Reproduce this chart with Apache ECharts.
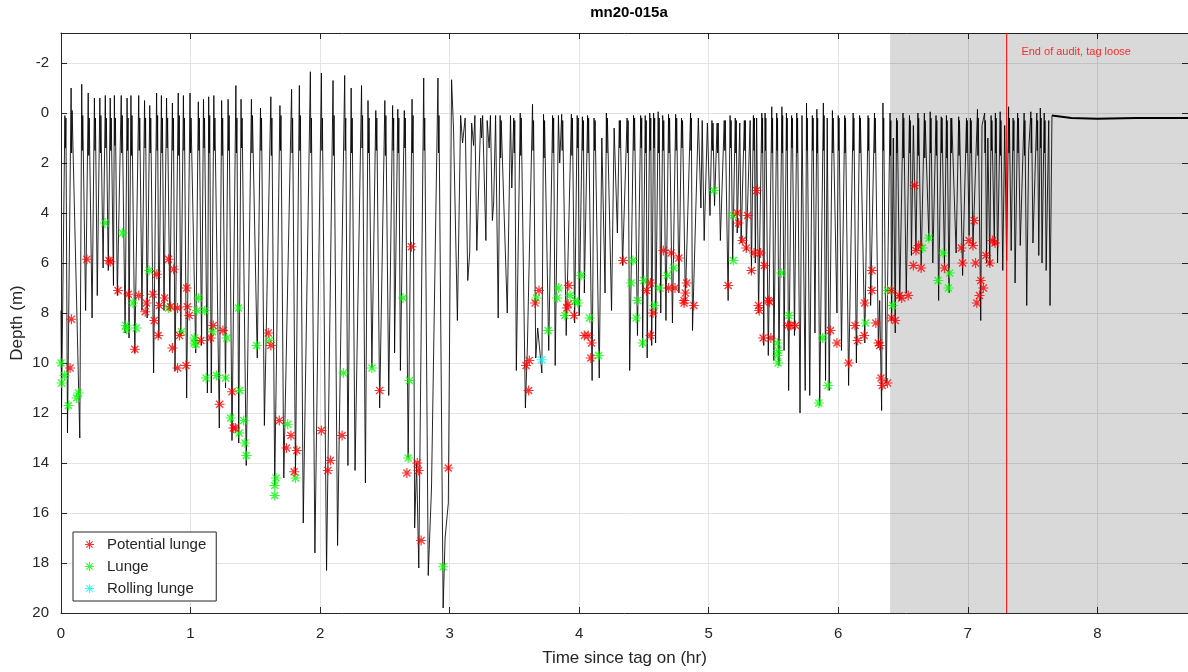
<!DOCTYPE html>
<html>
<head>
<meta charset="utf-8">
<title>mn20-015a</title>
<script src="https://cdn.jsdelivr.net/npm/echarts@6/dist/echarts.min.js"></script>
<style>
html, body { margin: 0; padding: 0; background: #fff; }
#chart { width: 1188px; height: 672px; }
</style>
</head>
<body>
<div id="chart"></div>
<script>
// depth trace [hours since tag on, depth m], read off the plot hour by hour
// (each surfacing: peak, the dense breathing blob, then the next descent)
const depthHr0 = [[0.000,7.9],[0.004,11.8],[0.030,0.1],[0.034,1.4],[0.038,0.2],[0.050,12.8],[0.078,-1.0],[0.082,1.6],[0.086,-0.1],[0.145,13.0],[0.160,-1.15],[0.164,1.5],[0.168,0.1],[0.190,7.9],[0.210,-0.8],[0.214,1.7],[0.218,0.2],[0.240,8.2],[0.258,-0.6],[0.262,1.5],[0.266,0.2],[0.280,7.3],[0.300,-0.6],[0.304,1.6],[0.308,0.1],[0.325,6.2],[0.342,-0.7],[0.346,1.4],[0.350,0.2],[0.365,6.3],[0.380,-0.6],[0.384,1.5],[0.388,0.2],[0.405,6.9],[0.412,-0.7],[0.416,1.3],[0.420,0.2],[0.435,7.3],[0.465,-0.7],[0.469,1.6],[0.473,0.1],[0.495,8.8],[0.510,-0.6],[0.514,1.5],[0.518,0.2],[0.525,9.0],[0.540,-0.7],[0.544,1.7],[0.548,0.1],[0.570,9.6],[0.600,-0.7],[0.604,1.5],[0.608,0.2],[0.625,7.9],[0.645,-0.5],[0.649,1.4],[0.653,0.2],[0.665,8.2],[0.685,-0.3],[0.689,1.6],[0.693,0.2],[0.715,10.4],[0.738,-0.8],[0.742,1.5],[0.746,0.1],[0.755,9.0],[0.775,-0.7],[0.779,1.6],[0.783,0.2],[0.795,7.9],[0.815,-0.6],[0.819,1.4],[0.823,0.2],[0.840,7.9],[0.860,-0.4],[0.864,1.5],[0.868,0.2],[0.880,10.3],[0.905,-0.8],[0.909,1.7],[0.913,0.1],[0.925,8.9],[0.945,-0.7],[0.949,1.5],[0.953,0.2],[0.970,11.4]];
const depthHr1 = [[0.996,-0.8],[1.000,1.6],[1.004,0.2],[1.040,9.6],[1.060,-0.45],[1.064,1.5],[1.068,0.2],[1.085,9.3],[1.100,-0.55],[1.104,1.4],[1.108,0.2],[1.130,11.2],[1.140,-0.65],[1.144,1.6],[1.148,0.1],[1.160,11.2],[1.180,-0.7],[1.184,1.5],[1.188,0.2],[1.222,12.6],[1.240,-0.5],[1.244,1.7],[1.248,0.2],[1.270,11.0],[1.290,-0.55],[1.294,1.5],[1.298,0.1],[1.320,13.1],[1.350,-1.1],[1.354,1.6],[1.358,0.2],[1.372,13.2],[1.390,-0.55],[1.394,1.4],[1.398,0.2],[1.430,14.1],[1.470,-0.55],[1.474,1.6],[1.478,0.1],[1.515,9.8],[1.540,-0.2],[1.544,1.5],[1.548,0.2],[1.570,12.5],[1.620,-0.65],[1.624,1.7],[1.628,0.2],[1.650,14.9],[1.690,-0.3],[1.694,1.5],[1.698,0.1],[1.720,14.6],[1.780,-0.95],[1.784,1.6],[1.788,0.2],[1.810,14.5],[1.840,-1.1],[1.844,1.5],[1.848,0.1],[1.870,16.4],[1.925,-1.65],[1.929,1.6],[1.933,0.2],[1.960,17.6]];
const depthHr2 = [[2.010,-1.6],[2.014,1.5],[2.018,0.2],[2.050,18.3],[2.100,-1.3],[2.104,1.7],[2.108,0.1],[2.135,17.3],[2.190,-1.5],[2.194,1.5],[2.198,0.2],[2.215,14.1],[2.240,-1.0],[2.244,1.6],[2.248,0.2],[2.270,14.3],[2.320,-1.1],[2.324,1.4],[2.328,0.1],[2.350,14.8],[2.370,-0.5],[2.374,1.6],[2.378,0.2],[2.400,10.2],[2.430,-0.1],[2.434,1.5],[2.438,0.2],[2.460,11.8],[2.500,-0.5],[2.504,1.7],[2.508,0.1],[2.530,11.3],[2.560,-0.3],[2.564,1.5],[2.568,0.2],[2.575,9.6],[2.600,-0.15],[2.604,1.6],[2.608,0.2],[2.620,10.3],[2.650,-0.1],[2.654,1.4],[2.658,0.2],[2.680,13.8],[2.710,-0.55],[2.714,1.6],[2.718,0.1],[2.730,16.6],[2.745,14.0],[2.762,18.2],[2.800,-1.4],[2.804,1.5],[2.808,0.2],[2.835,18.5],[2.860,15.0],[2.910,-1.4],[2.914,1.6],[2.918,0.1],[2.950,19.8],[2.965,17.0],[2.990,15.6]];
const depthHr3 = [[3.015,-1.33],[3.030,0.6],[3.060,8.3],[3.085,0.1],[3.100,1.2],[3.120,0.2],[3.140,6.7],[3.155,5.6],[3.170,0.4],[3.185,1.3],[3.195,0.1],[3.210,5.5],[3.240,0.2],[3.247,1.0],[3.255,0.1],[3.280,5.1],[3.290,0.3],[3.305,1.4],[3.315,0.1],[3.330,4.3],[3.340,3.6],[3.355,0.1],[3.375,8.2],[3.390,0.1],[3.394,1.8],[3.398,0.3],[3.445,8.0],[3.470,0.1],[3.480,3.0],[3.495,0.2],[3.499,1.6],[3.503,0.3],[3.515,10.3],[3.545,0.0],[3.549,1.7],[3.553,0.2],[3.585,11.8],[3.600,9.4],[3.640,-0.35],[3.644,1.5],[3.648,0.3],[3.665,9.8],[3.680,8.6],[3.712,10.4],[3.725,0.05],[3.729,1.8],[3.733,0.3],[3.765,9.5],[3.795,0.1],[3.799,1.6],[3.803,0.2],[3.815,10.1],[3.840,0.1],[3.850,2.0],[3.865,0.05],[3.869,1.5],[3.873,0.3],[3.900,8.9],[3.940,0.05],[3.944,1.7],[3.948,0.2],[3.965,8.4],[3.985,0.1],[3.989,1.4],[3.993,0.2]];
const depthHr4 = [[4.000,8.1],[4.025,0.15],[4.029,1.5],[4.033,0.3],[4.040,7.2],[4.065,0.1],[4.069,1.6],[4.073,0.2],[4.100,10.7],[4.115,0.2],[4.119,1.5],[4.123,0.3],[4.155,10.6],[4.175,1.0],[4.200,7.2],[4.210,0.0],[4.214,1.6],[4.218,0.2],[4.250,7.9],[4.270,0.6],[4.295,4.8],[4.310,0.3],[4.314,1.4],[4.318,0.3],[4.335,6.1],[4.370,0.2],[4.374,1.6],[4.378,0.3],[4.390,10.3],[4.420,0.1],[4.424,1.5],[4.428,0.2],[4.450,8.9],[4.475,0.1],[4.479,1.4],[4.483,0.2],[4.490,9.4],[4.510,0.1],[4.514,1.6],[4.518,0.3],[4.525,9.8],[4.545,0.0],[4.549,1.5],[4.553,0.2],[4.560,9.3],[4.575,0.0],[4.579,1.4],[4.583,0.2],[4.590,9.2],[4.610,-0.05],[4.614,1.6],[4.618,0.2],[4.630,8.0],[4.645,0.1],[4.649,1.5],[4.653,0.3],[4.670,8.3],[4.690,0.05],[4.694,1.6],[4.698,0.2],[4.720,8.4],[4.745,0.05],[4.749,1.5],[4.753,0.2],[4.770,7.2],[4.790,0.2],[4.794,1.4],[4.798,0.3],[4.820,7.5],[4.860,0.0],[4.863,1.5],[4.866,0.2],[4.875,8.7],[4.920,0.2],[4.940,3.8],[4.950,0.3],[4.965,5.1],[4.990,0.4]];
const depthHr5 = [[5.010,4.1],[5.025,0.3],[5.029,1.5],[5.033,0.4],[5.045,3.7],[5.065,0.4],[5.069,1.6],[5.073,0.4],[5.090,5.1],[5.120,0.3],[5.124,1.5],[5.128,0.3],[5.150,7.5],[5.165,0.1],[5.169,1.4],[5.173,0.3],[5.185,5.9],[5.205,0.2],[5.209,1.6],[5.213,0.3],[5.220,4.8],[5.240,0.4],[5.250,5.2],[5.275,0.3],[5.279,1.5],[5.283,0.3],[5.290,5.5],[5.320,0.3],[5.330,6.4],[5.345,0.1],[5.349,1.5],[5.353,0.2],[5.360,6.0],[5.370,0.2],[5.385,8.0],[5.410,0.0],[5.413,1.6],[5.416,0.2],[5.425,9.3],[5.435,0.0],[5.438,1.5],[5.441,0.2],[5.460,9.7],[5.487,-0.25],[5.490,1.6],[5.493,0.2],[5.503,9.9],[5.525,0.0],[5.528,1.5],[5.531,0.2],[5.542,10.1],[5.565,-0.25],[5.568,1.6],[5.571,0.1],[5.582,9.5],[5.600,0.0],[5.603,1.5],[5.606,0.2],[5.617,11.1],[5.640,0.1],[5.643,1.4],[5.646,0.2],[5.662,8.9],[5.680,0.0],[5.683,1.6],[5.686,0.2],[5.705,12.0],[5.720,0.1],[5.745,11.1],[5.755,-0.4],[5.758,1.5],[5.761,0.2],[5.780,11.3],[5.800,0.1],[5.803,1.5],[5.806,0.2],[5.820,8.8],[5.835,-0.15],[5.838,1.6],[5.841,0.2],[5.857,11.7],[5.885,-0.4],[5.888,1.5],[5.891,0.1],[5.902,10.7],[5.915,0.2],[5.930,11.1],[5.955,-0.1],[5.958,1.6],[5.961,0.2],[5.990,8.0]];
const depthHr6 = [[6.000,0.1],[6.003,1.5],[6.006,0.2],[6.025,9.5],[6.050,0.1],[6.053,1.6],[6.056,0.2],[6.080,10.9],[6.115,0.0],[6.118,1.5],[6.121,0.2],[6.140,10.0],[6.165,0.1],[6.168,1.6],[6.171,0.2],[6.205,9.2],[6.230,0.1],[6.233,1.5],[6.236,0.2],[6.250,7.7],[6.280,0.0],[6.283,1.6],[6.286,0.2],[6.310,9.4],[6.320,7.5],[6.335,11.9],[6.345,-0.4],[6.348,1.5],[6.351,0.2],[6.370,10.8],[6.400,0.0],[6.403,1.7],[6.406,0.3],[6.412,8.3],[6.425,1.0],[6.440,8.8],[6.450,0.2],[6.453,1.6],[6.456,0.3],[6.475,7.5],[6.500,0.0],[6.503,1.8],[6.506,0.2],[6.525,7.2],[6.550,0.1],[6.553,1.6],[6.556,0.3],[6.565,5.7],[6.580,0.5],[6.600,5.5],[6.615,0.0],[6.618,1.7],[6.621,0.2],[6.640,6.1],[6.665,0.0],[6.668,1.8],[6.671,0.3],[6.700,5.1],[6.710,-0.05],[6.713,1.6],[6.716,0.2],[6.730,6.0],[6.755,0.1],[6.758,1.7],[6.761,0.3],[6.775,7.5],[6.795,0.15],[6.798,1.6],[6.801,0.2],[6.820,6.1],[6.835,0.1],[6.838,1.8],[6.841,0.3],[6.855,7.2],[6.870,0.2],[6.873,1.6],[6.876,0.2],[6.910,5.6],[6.930,0.15],[6.933,1.7],[6.936,0.3],[6.960,6.5],[6.990,0.2],[6.993,1.6],[6.996,0.3]];
const depthHr7 = [[7.010,4.9],[7.020,0.2],[7.023,1.6],[7.026,0.3],[7.040,5.3],[7.075,-0.15],[7.078,1.7],[7.081,0.2],[7.100,8.3],[7.110,0.5],[7.130,0.0],[7.133,1.6],[7.136,0.3],[7.145,6.0],[7.155,1.0],[7.170,6.1],[7.180,0.1],[7.183,1.5],[7.186,0.3],[7.205,5.3],[7.213,0.0],[7.216,1.6],[7.219,0.2],[7.230,6.0],[7.250,-0.05],[7.253,1.7],[7.256,0.3],[7.270,6.3],[7.285,0.5],[7.300,5.9],[7.315,-0.25],[7.318,1.6],[7.321,0.2],[7.335,5.5],[7.350,0.2],[7.353,1.5],[7.356,0.3],[7.365,6.8],[7.385,0.0],[7.388,1.6],[7.391,0.2],[7.405,5.3],[7.435,0.0],[7.438,1.7],[7.441,0.3],[7.455,7.7],[7.470,1.5],[7.487,-0.05],[7.490,1.6],[7.493,0.2],[7.503,5.2],[7.533,0.0],[7.536,1.5],[7.539,0.3],[7.548,5.7],[7.560,-0.2],[7.563,1.4],[7.566,0.2],[7.573,6.0],[7.590,0.0],[7.593,1.6],[7.596,0.3],[7.605,6.3],[7.625,0.3],[7.635,7.7],[7.650,0.1]];
// tag floating after it came off
const depthLoose = [[7.650,0.1],[7.680,0.12],[7.800,0.2],[8.000,0.23],[8.300,0.2],[8.700,0.2]];

const potentialLunge = [[0.07,10.2],[0.08,8.25],[0.20,5.85],[0.37,5.9],[0.38,5.95],[0.44,7.1],[0.52,7.25],[0.57,9.45],[0.60,7.3],[0.65,7.95],[0.66,7.6],[0.71,7.25],[0.72,8.3],[0.74,6.45],[0.75,8.9],[0.76,7.7],[0.80,7.4],[0.83,5.85],[0.845,7.75],[0.86,9.4],[0.87,6.25],[0.90,7.8],[0.90,10.2],[0.915,8.9],[0.965,10.1],[0.97,7.0],[0.975,7.75],[0.99,8.1],
  [1.08,9.1],[1.155,9.0],[1.175,8.5],[1.225,11.65],[1.25,8.7],[1.32,11.15],[1.33,12.6],[1.345,12.6],[1.60,8.8],[1.62,9.3],[1.685,12.3],[1.74,13.4],[1.775,12.9],[1.80,14.35],[1.82,13.5],
  [2.01,12.7],[2.06,14.3],[2.08,13.9],[2.17,12.9],[2.46,11.1],[2.67,14.4],[2.705,5.35],[2.75,14.0],[2.76,14.3],[2.78,17.1],[2.99,14.2],
  [3.59,10.1],[3.61,11.1],[3.615,9.9],[3.66,7.6],[3.69,7.1],[3.905,7.8],[3.915,7.65],[3.92,6.9],[3.96,8.1],
  [4.04,8.9],[4.07,8.9],[4.09,9.8],[4.095,9.2],[4.34,5.9],[4.52,7.1],[4.55,6.8],[4.55,8.9],[4.57,8.0],[4.65,5.5],[4.69,7.0],[4.71,5.6],[4.74,7.0],[4.77,5.8],[4.81,7.5],[4.81,7.6],[4.82,7.2],[4.83,6.8],[4.885,7.7],
  [5.15,6.9],[5.22,4.0],[5.23,4.4],[5.26,5.1],[5.29,5.4],[5.30,4.1],[5.33,6.3],[5.35,5.6],[5.37,3.1],[5.385,7.7],[5.39,7.9],[5.40,5.6],[5.42,9.0],[5.43,6.1],[5.46,7.5],[5.47,7.55],[5.48,9.0],[5.61,8.5],[5.635,8.5],[5.67,8.5],[5.94,8.7],[5.99,9.2],
  [6.08,10.0],[6.13,8.5],[6.15,9.1],[6.20,8.9],[6.205,7.6],[6.26,6.3],[6.26,7.1],[6.29,8.4],[6.31,9.2],[6.32,9.3],[6.33,10.6],[6.34,10.9],[6.38,10.8],[6.41,7.1],[6.41,8.2],[6.44,8.3],[6.47,7.3],[6.49,7.4],[6.54,7.3],[6.58,6.1],[6.59,2.9],[6.60,5.5],[6.62,5.3],[6.64,6.2],[6.82,6.2],[6.95,5.4],[6.96,6.0],
  [7.01,5.1],[7.04,5.3],[7.05,4.3],[7.06,6.0],[7.07,7.6],[7.09,7.3],[7.10,6.7],[7.12,7.0],[7.14,5.7],[7.17,6.0],[7.19,5.1],[7.21,5.2]];
const lunge = [[0.00,10.0],[0.005,10.8],[0.026,10.5],[0.057,11.7],[0.12,11.4],[0.134,11.2],[0.34,4.4],[0.475,4.8],[0.50,8.5],[0.505,8.65],[0.556,7.6],[0.58,8.6],[0.68,6.3],[0.83,7.8],[0.93,8.75],
  [1.03,9.2],[1.03,9.0],[1.04,9.25],[1.05,7.9],[1.06,7.4],[1.11,7.9],[1.12,10.6],[1.17,8.75],[1.20,10.5],[1.27,10.6],[1.28,9.0],[1.31,12.2],[1.37,7.8],[1.375,12.8],[1.38,11.1],[1.41,12.3],[1.42,13.2],[1.43,13.7],[1.51,9.3],[1.61,9.1],[1.65,14.9],[1.65,15.3],[1.66,14.6],[1.75,12.45],[1.81,14.6],
  [2.18,10.4],[2.40,10.2],[2.64,7.4],[2.68,13.8],[2.69,10.7],[2.95,18.15],
  [3.67,7.4],[3.76,8.7],[3.83,7.4],[3.84,7.0],[3.89,8.1],[3.93,7.3],[3.97,7.5],[3.99,7.6],
  [4.015,6.5],[4.08,8.2],[4.15,9.7],[4.40,6.8],[4.415,5.9],[4.44,8.2],[4.45,7.5],[4.49,9.2],[4.50,6.7],[4.58,7.7],[4.62,7.0],[4.68,6.5],[4.73,6.2],
  [5.04,3.1],[5.19,4.1],[5.19,5.9],[5.53,9.2],[5.53,9.7],[5.535,9.5],[5.535,10.0],[5.56,6.4],[5.62,8.1],[5.85,11.6],[5.88,9.0],[5.92,10.9],
  [6.21,8.4],[6.38,7.1],[6.42,7.7],[6.65,5.4],[6.70,5.0],[6.77,6.7],[6.81,5.6],[6.85,7.0],[6.86,6.4]];
const rollingLunge = [[3.71,9.87]];

const depthRange = [-3.2, 20];
const timeRange = [0, 8.7];
const shadeStart = 6.4;
const auditEnd = 7.3;
const noteAt = [7.41, -2.43];
const noteText = 'End of audit, tag loose';

const depthTrace = [].concat(depthHr0, depthHr1, depthHr2, depthHr3, depthHr4, depthHr5, depthHr6, depthHr7);
const auditLine = [[auditEnd, depthRange[0]], [auditEnd, depthRange[1]]];

// matlab style '*' marker
const STAR = 'path://M-1.2,-10L1.2,-10L1.2,10L-1.2,10ZM-10,-1.2L10,-1.2L10,1.2L-10,1.2Z' +
  'M-6.2,-7.9L7.9,6.2L6.2,7.9L-7.9,-6.2ZM-6.2,7.9L-7.9,6.2L6.2,-7.9L7.9,-6.2Z';

const FONT = '"Liberation Sans", Arial, Helvetica, sans-serif';
const AX = '#262626';

const myChart = echarts.init(document.getElementById('chart'));

const frameX = {
    type: 'value', min: timeRange[0], max: timeRange[1], interval: 1,
    axisLine: { show: true, onZero: false, lineStyle: { color: AX, width: 1 } },
    axisTick: { show: true, inside: true, length: 6, lineStyle: { color: AX } },
    splitLine: { show: false }
};
const frameY = {
    type: 'value', min: depthRange[0], max: depthRange[1], splitNumber: 11, inverse: true,
    axisLine: { show: true, onZero: false, lineStyle: { color: AX, width: 1 } },
    axisTick: { show: true, inside: true, length: 6, lineStyle: { color: AX } },
    splitLine: { show: false }
};

let option = {
    animation: false,
    backgroundColor: '#fff',
    textStyle: { fontFamily: FONT },
    title: {
        text: 'mn20-015a',
        left: 624, top: 0, textAlign: 'center',
        textStyle: { fontSize: 15, fontWeight: 'bold', color: '#000', fontFamily: FONT }
    },
    grid: { left: 61, right: 0, top: 33, bottom: 59, containLabel: false, outerBoundsMode: 'none' },
    legend: {
        orient: 'vertical',
        left: 73, top: 532,
        itemWidth: 9, itemHeight: 9, itemGap: 7,
        padding: [5, 10, 5, 12],
        borderColor: AX, borderWidth: 1,
        backgroundColor: '#fff',
        selectedMode: false,
        textStyle: { fontSize: 15, color: AX, fontFamily: FONT, padding: [0, 0, 0, 8] },
        data: [
            { name: 'Potential lunge', icon: STAR },
            { name: 'Lunge', icon: STAR },
            { name: 'Rolling lunge', icon: STAR }
        ]
    },
    xAxis: [
        Object.assign({}, frameX, {
            position: 'bottom',
            name: 'Time since tag on (hr)', nameLocation: 'middle', nameGap: 37,
            nameMoveOverlap: false,
            nameTextStyle: { fontSize: 17, color: AX, fontFamily: FONT },
            axisLabel: { fontSize: 15, color: AX, margin: 13, showMaxLabel: false },
            splitLine: { show: true, lineStyle: { color: '#e3e3e3', width: 1 } }
        }),
        Object.assign({}, frameX, { position: 'top', axisLabel: { show: false } })
    ],
    yAxis: [
        Object.assign({}, frameY, {
            position: 'left',
            name: 'Depth (m)', nameLocation: 'middle', nameGap: 35,
            nameMoveOverlap: false,
            nameTextStyle: { fontSize: 17, color: AX, fontFamily: FONT },
            axisLabel: {
                fontSize: 15, color: AX, margin: 12, showMinLabel: false,
                formatter: (v) => (Math.abs(v - Math.round(v)) > 1e-6 ? '' : String(v))
            },
            splitLine: { show: true, lineStyle: { color: '#e3e3e3', width: 1 } }
        }),
        Object.assign({}, frameY, { position: 'right', axisLabel: { show: false } })
    ],
    series: [
        {
            name: 'shade', type: 'line', data: [], z: 1, silent: true,
            markArea: {
                silent: true,
                itemStyle: { color: 'rgba(0,0,0,0.15)' },
                data: [[{ xAxis: shadeStart }, { xAxis: timeRange[1] }]]
            }
        },
        {
            name: 'depth', type: 'line', data: depthTrace, z: 2,
            symbol: 'none', showSymbol: false, sampling: null,
            lineStyle: { color: '#000', width: 0.85 }
        },
        {
            name: 'loose', type: 'line', data: depthLoose, z: 2,
            symbol: 'none', showSymbol: false,
            lineStyle: { color: '#000', width: 2 }
        },
        {
            name: 'audit', type: 'line', data: auditLine, z: 3, silent: true,
            symbol: 'none', showSymbol: false,
            lineStyle: { color: '#ff0000', width: 1 }
        },
        {
            name: 'Potential lunge', type: 'scatter', data: potentialLunge, z: 5,
            symbol: STAR, symbolSize: 10, itemStyle: { color: '#ff0000' }
        },
        {
            name: 'Lunge', type: 'scatter', data: lunge, z: 4,
            symbol: STAR, symbolSize: 10, itemStyle: { color: '#00ff00' }
        },
        {
            name: 'Rolling lunge', type: 'scatter', data: rollingLunge, z: 6,
            symbol: STAR, symbolSize: 10, itemStyle: { color: '#00ffff' }
        },
        {
            name: 'note', type: 'scatter', data: [noteAt], z: 6, silent: true,
            symbolSize: 1, itemStyle: { color: 'rgba(0,0,0,0)' },
            label: {
                show: true, position: 'right', distance: 0,
                formatter: noteText, color: '#ff0000', fontSize: 11, fontFamily: FONT
            }
        }
    ]
};

myChart.setOption(option);
</script>
</body>
</html>
